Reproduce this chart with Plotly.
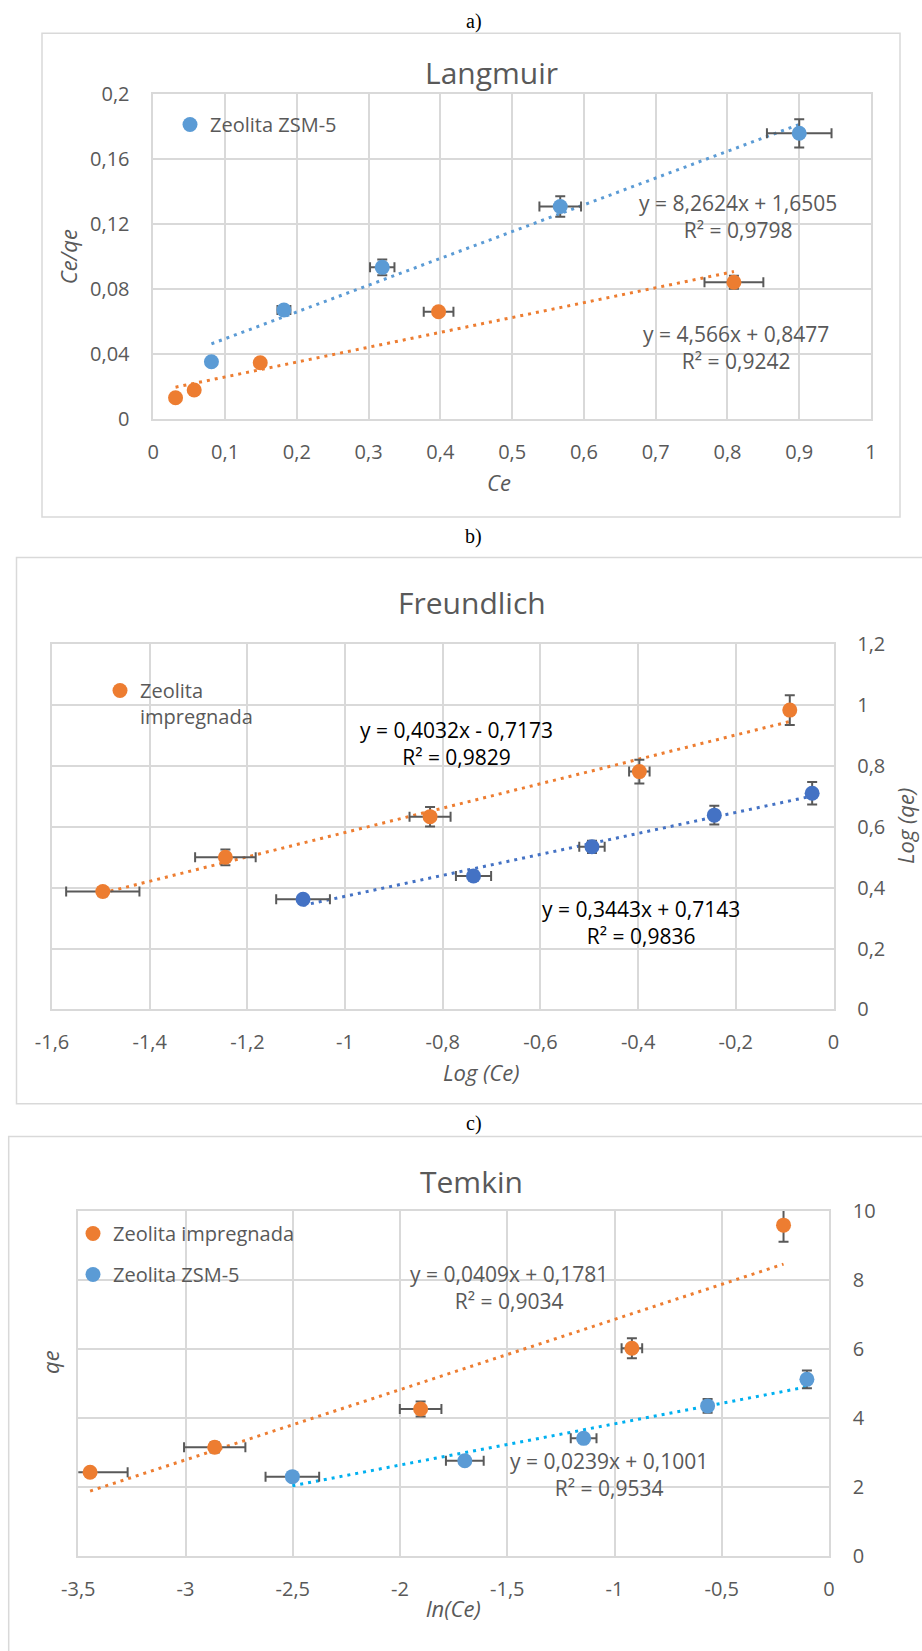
import numpy as np
import plotly.graph_objects as go

W, H = 922, 1651


def px(x):
    return x / W


def py(y):
    return 1 - y / H


ORANGE = '#ED7D31'
BLUE = '#5B9BD5'
BLUE_DARK = '#4472C4'
CYAN = '#00B0F0'
GRID = '#D9D9D9'
TXT = '#595959'
ERR = '#595959'
FONT = 'Open Sans'

# ---- a) Langmuir: Ce vs Ce/qe ----
lang_zsm_x = [0.081, 0.182, 0.319, 0.567, 0.900]
lang_zsm_y = [0.0354, 0.0673, 0.0935, 0.131, 0.176]
lang_zsm_ex = [0.0, 0.009, 0.017, 0.029, 0.045]
lang_zsm_ey = [0.0, 0.002, 0.0049, 0.0063, 0.0087]
lang_imp_x = [0.031, 0.057, 0.149, 0.3975, 0.809]
lang_imp_y = [0.0133, 0.018, 0.0348, 0.0662, 0.0843]
lang_imp_ex = [0.0, 0.0, 0.005, 0.0207, 0.041]
lang_imp_ey = [0.0, 0.0, 0.002, 0.0015, 0.004]
lang_xticks = [0, 0.1, 0.2, 0.3, 0.4, 0.5, 0.6, 0.7, 0.8, 0.9, 1]
lang_xtext = ['0', '0,1', '0,2', '0,3', '0,4', '0,5', '0,6', '0,7', '0,8', '0,9', '1']
lang_yticks = [0, 0.04, 0.08, 0.12, 0.16, 0.2]
lang_ytext = ['0', '0,04', '0,08', '0,12', '0,16', '0,2']
lang_eq_zsm = 'y = 8,2624x + 1,6505<br>R² = 0,9798'
lang_eq_imp = 'y = 4,566x + 0,8477<br>R² = 0,9242'

# ---- b) Freundlich: Log(Ce) vs Log(qe) ----
fr_imp_x = [-1.496, -1.245, -0.826, -0.3975, -0.0895]
fr_imp_y = [0.387, 0.4995, 0.633, 0.781, 0.983]
fr_imp_ex = [0.075, 0.062, 0.042, 0.021, 0.0]
fr_imp_ey = [0.015, 0.026, 0.032, 0.039, 0.049]
fr_zsm_x = [-1.086, -0.737, -0.4945, -0.244, -0.0437]
fr_zsm_y = [0.3615, 0.438, 0.534, 0.638, 0.710]
fr_zsm_ex = [0.055, 0.036, 0.026, 0.005, 0.0]
fr_zsm_ey = [0.01, 0.015, 0.02, 0.031, 0.037]
fr_xticks = [-1.6, -1.4, -1.2, -1.0, -0.8, -0.6, -0.4, -0.2, 0]
fr_xtext = ['-1,6', '-1,4', '-1,2', '-1', '-0,8', '-0,6', '-0,4', '-0,2', '0']
fr_yticks = [0, 0.2, 0.4, 0.6, 0.8, 1.0, 1.2]
fr_ytext = ['0', '0,2', '0,4', '0,6', '0,8', '1', '1,2']
fr_eq_imp = 'y = 0,4032x - 0,7173<br>R² = 0,9829'
fr_eq_zsm = 'y = 0,3443x + 0,7143<br>R² = 0,9836'

# ---- c) Temkin: ln(Ce) vs qe ----
tk_imp_x = [-3.445, -2.864, -1.904, -0.919, -0.212]
tk_imp_y = [2.426, 3.15, 4.26, 6.02, 9.59]
tk_imp_ex = [0.175, 0.143, 0.097, 0.048, 0.0]
tk_imp_ey = [0.05, 0.15, 0.22, 0.29, 0.48]
tk_zsm_x = [-2.502, -1.698, -1.144, -0.566, -0.103]
tk_zsm_y = [2.30, 2.76, 3.41, 4.35, 5.12]
tk_zsm_ex = [0.125, 0.088, 0.06, 0.02, 0.0]
tk_zsm_ey = [0.05, 0.08, 0.1, 0.2, 0.26]
tk_xticks = [-3.5, -3, -2.5, -2, -1.5, -1, -0.5, 0]
tk_xtext = ['-3,5', '-3', '-2,5', '-2', '-1,5', '-1', '-0,5', '0']
tk_yticks = [0, 2, 4, 6, 8, 10]
tk_ytext = ['0', '2', '4', '6', '8', '10']
tk_eq_imp = 'y = 0,0409x + 0,1781<br>R² = 0,9034'
tk_eq_zsm = 'y = 0,0239x + 0,1001<br>R² = 0,9534'

NAME_IMP = 'Zeolita impregnada'
NAME_ZSM = 'Zeolita ZSM-5'

fig = go.Figure()


def add_trend(x, y, color, xa, ya):
    k, b = np.polyfit(x, y, 1)
    xs = np.array([min(x), max(x)])
    fig.add_trace(go.Scatter(
        x=xs, y=k * xs + b, mode='lines', xaxis=xa, yaxis=ya,
        line=dict(color=color, width=3, dash='3px,5px'),
        showlegend=False, hoverinfo='skip'))


def add_points(x, y, ex, ey, color, name, xa, ya, legend, show, group):
    err = dict(type='data', color=ERR, thickness=2, width=5)
    fig.add_trace(go.Scatter(
        x=x, y=y, mode='markers', name=name, xaxis=xa, yaxis=ya,
        marker=dict(color=color, size=15),
        error_x=dict(err, array=ex), error_y=dict(err, array=ey),
        legend=legend, showlegend=show, legendgroup=group))


# a)
add_trend(lang_zsm_x, lang_zsm_y, BLUE, 'x', 'y')
add_trend(lang_imp_x, lang_imp_y, ORANGE, 'x', 'y')
add_points(lang_imp_x, lang_imp_y, lang_imp_ex, lang_imp_ey, ORANGE, NAME_IMP,
           'x', 'y', 'legend', False, 'a_imp')
add_points(lang_zsm_x, lang_zsm_y, lang_zsm_ex, lang_zsm_ey, BLUE, NAME_ZSM,
           'x', 'y', 'legend', True, 'a_zsm')

# b)
add_trend(fr_imp_x, fr_imp_y, ORANGE, 'x2', 'y2')
add_trend(fr_zsm_x, fr_zsm_y, BLUE_DARK, 'x2', 'y2')
add_points(fr_imp_x, fr_imp_y, fr_imp_ex, fr_imp_ey, ORANGE, 'Zeolita<br>impregnada',
           'x2', 'y2', 'legend2', True, 'b_imp')
add_points(fr_zsm_x, fr_zsm_y, fr_zsm_ex, fr_zsm_ey, BLUE_DARK, NAME_ZSM,
           'x2', 'y2', 'legend2', False, 'b_zsm')

# c)
add_trend(tk_imp_x, tk_imp_y, ORANGE, 'x3', 'y3')
add_trend(tk_zsm_x, tk_zsm_y, CYAN, 'x3', 'y3')
add_points(tk_imp_x, tk_imp_y, tk_imp_ex, tk_imp_ey, ORANGE, NAME_IMP,
           'x3', 'y3', 'legend3', True, 'c_imp')
add_points(tk_zsm_x, tk_zsm_y, tk_zsm_ex, tk_zsm_ey, BLUE, NAME_ZSM,
           'x3', 'y3', 'legend3', True, 'c_zsm')


def axis(domain, anchor, rng, tickvals, ticktext, **kw):
    d = dict(domain=domain, anchor=anchor, range=rng, tickmode='array',
             tickvals=tickvals, ticktext=ticktext, showgrid=True,
             gridcolor=GRID, gridwidth=1.5, zeroline=False, showline=True,
             mirror=True, linecolor=GRID, linewidth=1.5, ticks='',
             automargin=False,
             tickfont=dict(family=FONT, size=20, color=TXT), fixedrange=True)
    d.update(kw)
    return d


layout = dict(
    width=W, height=H, margin=dict(l=0, r=0, t=0, b=0, pad=0, autoexpand=False),
    paper_bgcolor='white', plot_bgcolor='white', separators=',.',
    font=dict(family=FONT, color=TXT),
    xaxis=axis([px(153.3), px(871)], 'y', [0, 1], lang_xticks, lang_xtext,
               ticklabelstandoff=14),
    yaxis=axis([py(419.3), py(94.3)], 'x', [0, 0.2], lang_yticks, lang_ytext,
               ticklabelstandoff=18),
    xaxis2=axis([px(52), px(833.5)], 'y2', [-1.6, 0], fr_xticks, fr_xtext,
                ticklabelstandoff=14),
    yaxis2=axis([py(1009.4), py(644)], 'x2', [0, 1.2], fr_yticks, fr_ytext,
                side='right', ticklabelstandoff=18),
    xaxis3=axis([px(78.3), px(829)], 'y3', [-3.5, 0], tk_xticks, tk_xtext,
                ticklabelstandoff=14),
    yaxis3=axis([py(1556), py(1211)], 'x3', [0, 10], tk_yticks, tk_ytext,
                side='right', ticklabelstandoff=18),
)

legend_common = dict(xanchor='left', yanchor='top', bgcolor='rgba(0,0,0,0)',
                     borderwidth=0, font=dict(family=FONT, size=20, color=TXT))
layout['legend'] = dict(legend_common, x=px(170), y=py(105))
layout['legend2'] = dict(legend_common, x=px(100), y=py(671), valign='top')
layout['legend3'] = dict(legend_common, x=px(73), y=py(1214),
                         traceorder='grouped', tracegroupgap=12)

# frames around each chart
boxes = [(42, 33.3, 900, 517), (16.5, 557.5, 930, 1103.7), (8.7, 1136.5, 930, 1660)]
shapes = []
for x0, y0, x1, y1 in boxes:
    shapes.append(dict(type='rect', xref='paper', yref='paper',
                       x0=px(x0), x1=px(x1), y0=py(y1), y1=py(y0),
                       line=dict(color=GRID, width=1.5), layer='below'))
layout['shapes'] = shapes

ann = []


def text(x, y, s, size, color=TXT, family=FONT, angle=0, italic=False, align='center'):
    ann.append(dict(x=px(x), y=py(y), xref='paper', yref='paper', text=s,
                    showarrow=False, xanchor='center', yanchor='middle',
                    textangle=angle, align=align,
                    font=dict(family=family, size=size, color=color,
                              style='italic' if italic else 'normal')))


# panel letters
text(473.5, 21.7, 'a)', 20, 'black', 'Liberation Serif')
text(473.5, 536, 'b)', 20, 'black', 'Liberation Serif')
text(473.5, 1123.7, 'c)', 20, 'black', 'Liberation Serif')
# chart titles
text(491, 73, 'Langmuir', 30)
text(471.5, 602, 'Freundlich', 30)
text(471.7, 1181, 'Temkin', 30)
# axis titles
text(67.6, 256.7, 'Ce/qe', 22, angle=-90, italic=True)
text(499, 481.7, 'Ce', 22, italic=True)
text(481, 1071.7, 'Log (Ce)', 22, italic=True)
text(905, 826, 'Log (qe)', 22, angle=-90, italic=True)
text(50, 1362, 'qe', 22, angle=-90, italic=True)
text(453, 1608, 'ln(Ce)', 22, italic=True)
# trendline equations
text(738, 216.7, lang_eq_zsm, 21)
text(735.5, 347.5, lang_eq_imp, 21)
text(456, 743.8, fr_eq_imp, 21, 'black')
text(641, 922.5, fr_eq_zsm, 21, 'black')
text(509.5, 1287.2, tk_eq_imp, 21)
text(609, 1474, tk_eq_zsm, 21)
layout['annotations'] = ann

fig.update_layout(**layout)
fig.write_html('out.html')
